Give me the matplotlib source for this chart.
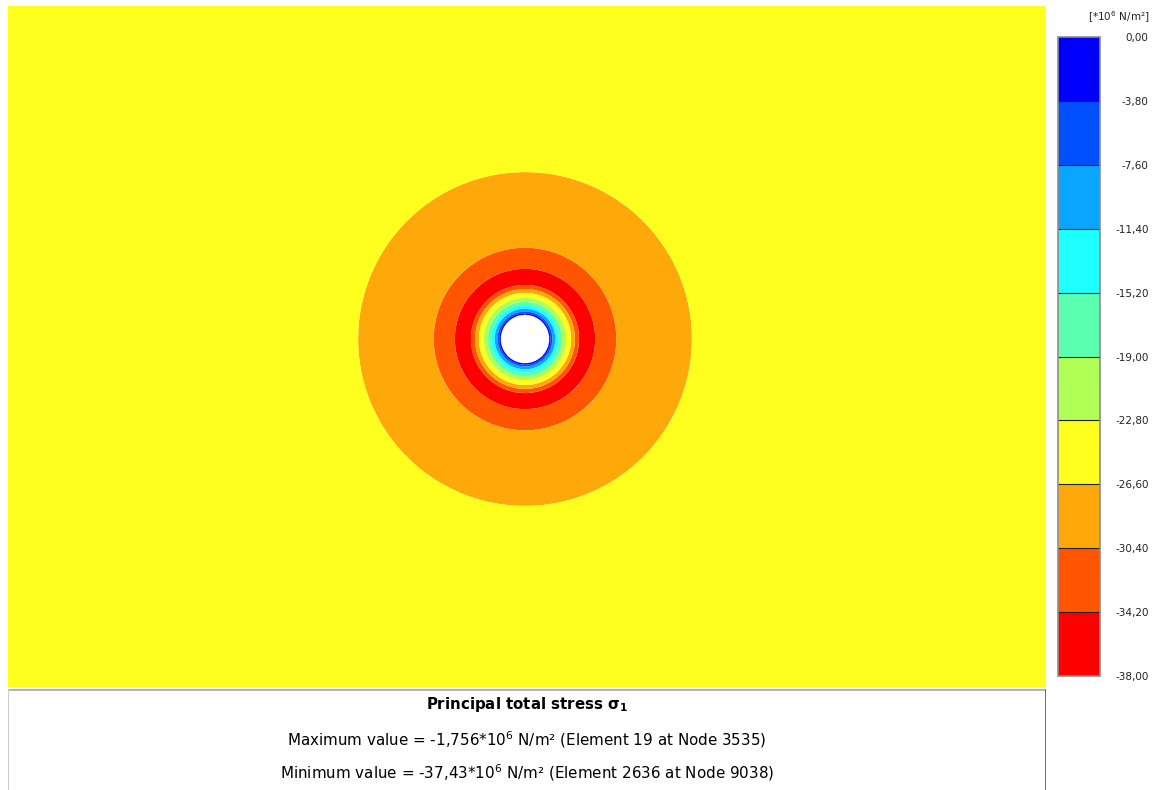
import numpy as np
import matplotlib
matplotlib.use("Agg")
import matplotlib.pyplot as plt
from matplotlib.lines import Line2D

# Radial profile of the principal total stress sigma_1 around the opening
# (radius in units of the opening radius, stress in 10^6 N/m^2)
radius = [1.00, 1.07, 1.14, 1.26, 1.40, 1.54, 1.71, 1.92, 2.08, 2.25, 2.60, 2.92, 3.80, 6.95, 12.0, 40.0]
stress = [-1.756, -3.80, -7.60, -11.40, -15.20, -19.00, -22.80, -26.60, -30.40, -34.20,
          -37.43, -34.20, -30.40, -26.60, -25.00, -25.00]

# Contour levels and colours (low -> high)
levels = [-38.0, -34.2, -30.4, -26.6, -22.8, -19.0, -15.2, -11.4, -7.6, -3.8, 0.0]
level_colors = ["#ff0000", "#ff5500", "#ffa80a", "#ffff1e", "#afff55",
                "#5affaf", "#1effff", "#0aa5ff", "#0050ff", "#0000ff"]
tick_labels = ["-38,00", "-34,20", "-30,40", "-26,60", "-22,80", "-19,00",
               "-15,20", "-11,40", "-7,60", "-3,80", "0,00"]

title_text = "Principal total stress σ$_{\\mathbf{1}}$"
max_text = "Maximum value = -1,756*10$^{6}$ N/m² (Element 19 at Node 3535)"
min_text = "Minimum value = -37,43*10$^{6}$ N/m² (Element 2636 at Node 9038)"
unit_text = "[*10$^{6}$ N/m²]"

W, H = 1152, 790
fig = plt.figure(figsize=(W / 100, H / 100), dpi=100)
fig.patch.set_facecolor("white")


def px_axes(x0, y0, x1, y1):
    """Axes placed by pixel box (top-left origin)."""
    return fig.add_axes([x0 / W, 1 - y1 / H, (x1 - x0) / W, (y1 - y0) / H])


# Model geometry (opening radius = 1, 24 px per unit)
scale = 24.0
cx, cy = 525.0, 339.0
px0, py0, px1, py1 = 8, 6, 1046, 687
xmin, xmax = (px0 - cx) / scale, (px1 - cx) / scale
ymin, ymax = -(py1 - cy) / scale, (cy - py0) / scale

ax = px_axes(px0, py0, px1, py1)
x = np.linspace(xmin, xmax, 2600)
y = np.linspace(ymin, ymax, 1700)
X, Y = np.meshgrid(x, y)
R = np.hypot(X, Y)
Z = np.interp(R, radius, stress)
Z = np.ma.masked_where(R < 1.0, Z)

cs = ax.contourf(X, Y, Z, levels=levels, colors=level_colors, antialiased=True)
ax.set_xlim(xmin, xmax)
ax.set_ylim(ymin, ymax)
ax.set_axis_off()

# Colour legend
cax = px_axes(1058, 37, 1100, 676)
cb = fig.colorbar(cs, cax=cax, drawedges=True)
cb.set_ticks(levels)
cb.set_ticklabels(tick_labels)
cb.outline.set_edgecolor("#8c8c8c")
cb.outline.set_linewidth(1.2)
cb.dividers.set_color("#202020")
cb.dividers.set_linewidth(0.8)
cax.tick_params(length=0, pad=35, labelsize=7.5, colors="#222222")
for lbl in cax.get_yticklabels():
    lbl.set_horizontalalignment("right")
fig.text(1150 / W, 1 - 17 / H, unit_text, ha="right", va="center", fontsize=7.5, color="#222222")

# Result summary box
bax = px_axes(8, 689, 1046, 790)
bax.set_xlim(0, 1)
bax.set_ylim(0, 1)
bax.set_axis_off()
bax.add_line(Line2D([0, 1], [1, 1], color="#b0b0b0", lw=2.0, transform=bax.transAxes))
bax.add_line(Line2D([1, 1], [0, 1], color="#555555", lw=1.2, transform=bax.transAxes))
bax.add_line(Line2D([0, 0], [0, 1], color="#cccccc", lw=0.8, transform=bax.transAxes))

fig.text(527 / W, 1 - 704 / H, title_text, ha="center", va="center",
         fontsize=10.8, fontweight="bold", color="black")
fig.text(527 / W, 1 - 740 / H, max_text, ha="center", va="center", fontsize=10.9, color="black")
fig.text(527 / W, 1 - 773 / H, min_text, ha="center", va="center", fontsize=10.9, color="black")

fig.savefig("out.png", dpi=100, facecolor="white")
